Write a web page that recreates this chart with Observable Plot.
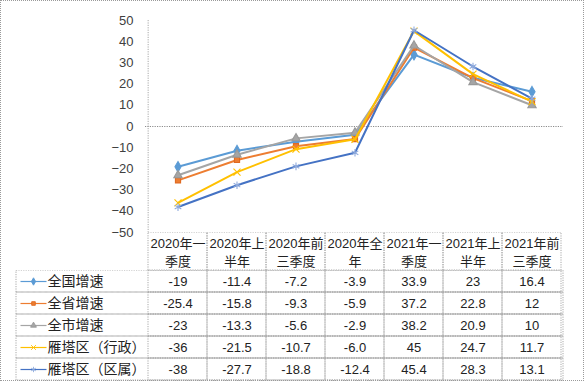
<!DOCTYPE html>
<html>
<head>
<meta charset="utf-8">
<script src="https://cdn.jsdelivr.net/npm/d3@7"></script>
<script src="https://cdn.jsdelivr.net/npm/@observablehq/plot@0.6"></script>
<style>
  html, body { margin: 0; padding: 0; background: #fff; }
  #wrap { position: relative; width: 584px; height: 381px; background: #fff; overflow: hidden; }
  #wrap > svg { position: absolute; left: 0; }
  #border { position: absolute; left: 0; top: 0; width: 584px; height: 381px; box-sizing: border-box; border: 1px dotted #9a9a9a; pointer-events: none; }
</style>
</head>
<body>
<div id="wrap"><div id="border"></div></div>
<script>
const periods = ["2020年一季度","2020年上半年","2020年前三季度","2020年全年","2021年一季度","2021年上半年","2021年前三季度"];
const periodLabels = ["2020年一\n季度","2020年上\n半年","2020年前\n三季度","2020年全\n年","2021年一\n季度","2021年上\n半年","2021年前\n三季度"];
const seriesNames = ["全国增速","全省增速","全市增速","雁塔区（行政）","雁塔区（区属）"];
const quanguo = ["-19","-11.4","-7.2","-3.9","33.9","23","16.4"];
const quansheng = ["-25.4","-15.8","-9.3","-5.9","37.2","22.8","12"];
const quanshi = ["-23","-13.3","-5.6","-2.9","38.2","20.9","10"];
const xingzheng = ["-36","-21.5","-10.7","-6.0","45","24.7","11.7"];
const qushu = ["-38","-27.7","-18.8","-12.4","45.4","28.3","13.1"];
const yTicks = [-50,-40,-30,-20,-10,0,10,20,30,40,50];

const seriesValues = [quanguo, quansheng, quanshi, xingzheng, qushu];
const colors = ["#5B9BD5","#ED7D31","#A5A5A5","#FFC000","#4472C4"];
const symbols = ["diamond","square","triangle","times","asterisk"];
const markFill = ["#5B9BD5","#ED7D31","#A5A5A5","none","none"];
const markStroke = ["#5B9BD5","#E06A20","#999999","#FFC000","#8FAADC"];
const markR = [3.2, 2.9, 3.1, 3.3, 3.6];

const rows = [];
seriesNames.forEach((s, i) => periods.forEach((p, j) => rows.push({series: s, si: i, period: p, label: seriesValues[i][j], value: +seriesValues[i][j]})));

const font = "'Liberation Sans', 'Noto Sans CJK SC', sans-serif";
const gridStroke = "#a8a8a8";
const dash = "1.2,1.2";
const wrap = document.getElementById("wrap");
const border = document.getElementById("border");

// Line chart
const lineMarks = [];
seriesNames.forEach((s, i) => {
  const d = rows.filter(r => r.si === i);
  lineMarks.push(Plot.line(d, {x: "period", y: "value", stroke: colors[i], strokeWidth: 2}));
  lineMarks.push(Plot.dot(d, {x: "period", y: "value", symbol: symbols[i], r: markR[i], fill: markFill[i], stroke: markStroke[i], strokeWidth: 1.1}));
});
const bw = 418 / periods.length;
const chart = Plot.plot({
  width: 584, height: 240,
  marginTop: 20, marginBottom: 8, marginLeft: 145, marginRight: 21,
  style: {background: "transparent", fontFamily: font, fontSize: "13px", color: "#404040"},
  x: {type: "band", domain: periods, padding: 0, axis: null},
  y: {domain: [-50, 50], ticks: yTicks, tickSize: 0, tickPadding: 12, label: null},
  marks: [
    Plot.ruleX([periods[0]], {dx: -bw / 2, stroke: gridStroke, strokeDasharray: dash}),
    Plot.ruleY([0], {stroke: "#8c8c8c", strokeDasharray: dash}),
    ...lineMarks
  ]
});
chart.style.top = "0px";
wrap.insertBefore(chart, border);

// Header row
const header = Plot.plot({
  width: 584, height: 39,
  marginTop: 0, marginBottom: 1, marginLeft: 145, marginRight: 21,
  style: {background: "transparent", fontFamily: font, fontSize: "13px", color: "#222"},
  x: {type: "band", domain: periods, padding: 0, axis: null},
  marks: [
    Plot.cell(periods, {x: d => d, fill: "none", stroke: gridStroke, strokeDasharray: dash}),
    Plot.text(periods, {x: d => d, text: (d, i) => periodLabels[i], frameAnchor: "middle", lineHeight: 1.35, fill: "#222"})
  ]
});
header.style.top = "232px";
wrap.insertBefore(header, border);

// Table body
const lineSym = {draw(ctx) { ctx.moveTo(-13, 0); ctx.lineTo(13, 0); }};
const body = Plot.plot({
  width: 584, height: 111,
  marginTop: 0, marginBottom: 1, marginLeft: 16, marginRight: 21,
  style: {background: "transparent", fontFamily: font, fontSize: "13px", color: "#222"},
  x: {type: "band", domain: periods, range: [145, 563], padding: 0, axis: null},
  y: {type: "band", domain: seriesNames, padding: 0, axis: null},
  marks: [
    Plot.cell(seriesNames, {y: d => d, fill: "none", stroke: gridStroke, strokeDasharray: dash}),
    Plot.cell(rows, {x: "period", y: "series", fill: "none", stroke: gridStroke, strokeDasharray: dash}),
    Plot.text(rows, {x: "period", y: "series", text: "label", fill: "#222"}),
    Plot.dot(seriesNames, {y: d => d, frameAnchor: "left", dx: 17, symbol: lineSym, fill: "none", stroke: (d, i) => colors[i], strokeWidth: 1.2}),
    ...seriesNames.map((s, i) => Plot.dot([s], {y: d => d, frameAnchor: "left", dx: 17, symbol: symbols[i], r: markR[i] * 0.7, fill: markFill[i], stroke: markStroke[i], strokeWidth: 0.9})),
    Plot.text(seriesNames, {y: d => d, text: d => d, frameAnchor: "left", textAnchor: "start", dx: 31, fontSize: 14, fill: "#222"})
  ]
});
body.style.top = "270px";
wrap.insertBefore(body, border);
</script>
</body>
</html>
